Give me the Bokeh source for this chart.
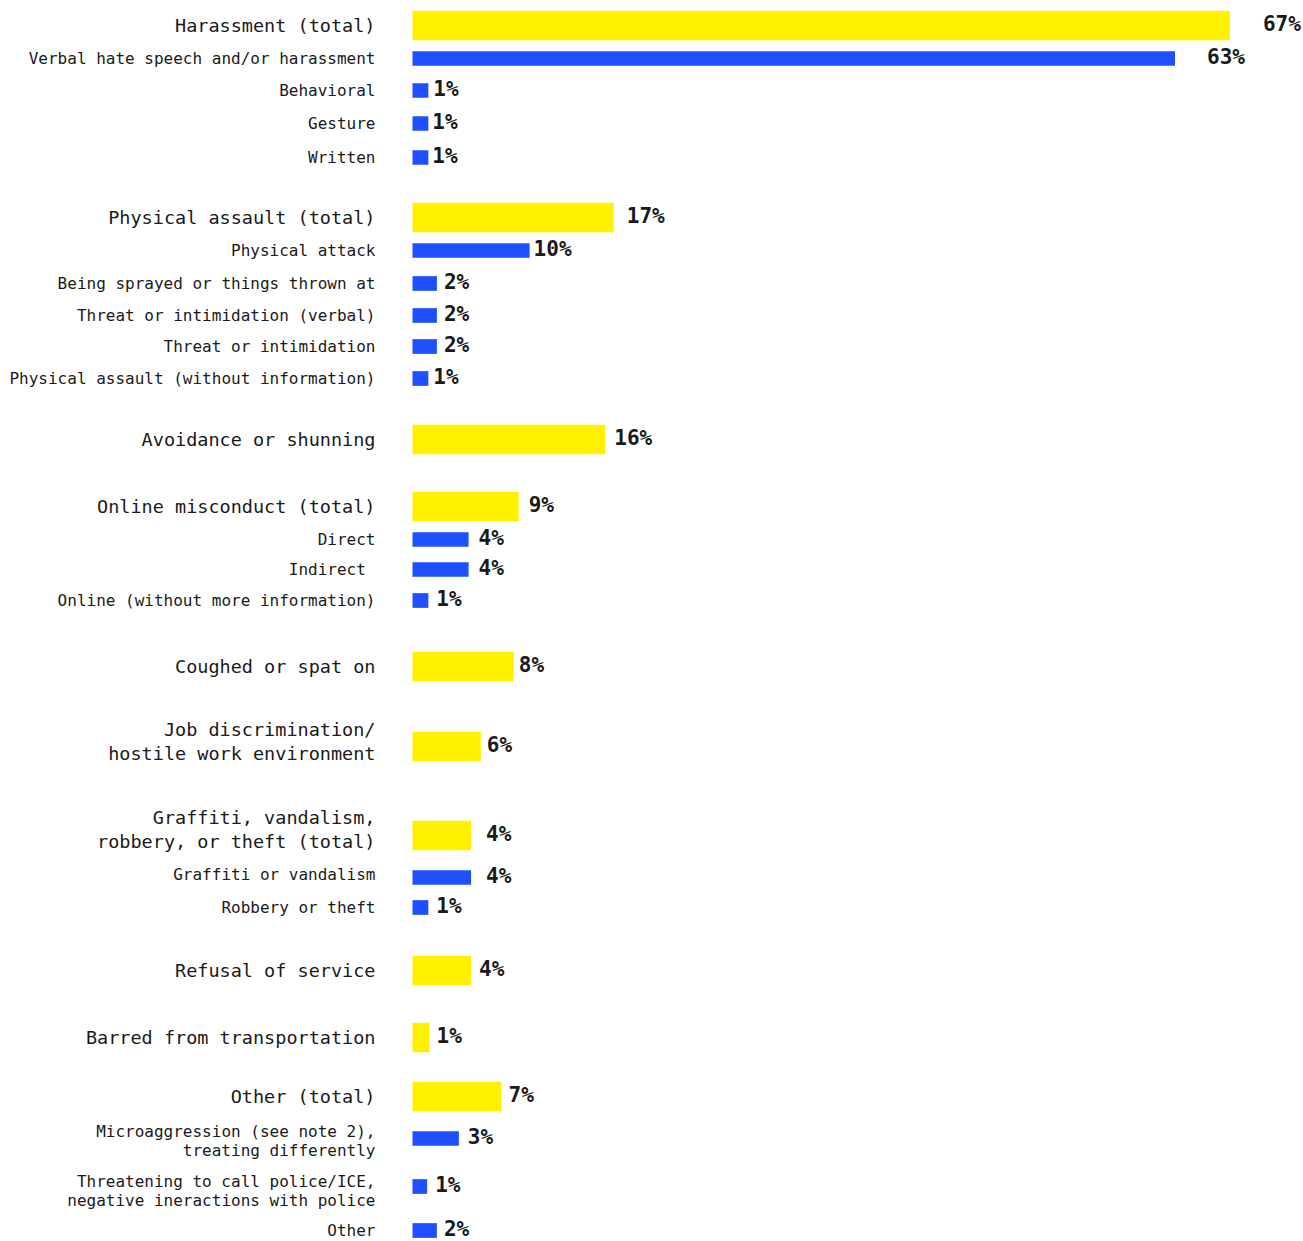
from bokeh.plotting import figure
from bokeh.models import ColumnDataSource, Range1d
from bokeh.embed import file_html
from bokeh.resources import INLINE
from bokeh.core.properties import value

# ---------------- data ----------------
categories = [
    "Harassment (total)",
    "Verbal hate speech and/or harassment",
    "Behavioral",
    "Gesture",
    "Written",
    "Physical assault (total)",
    "Physical attack",
    "Being sprayed or things thrown at",
    "Threat or intimidation (verbal)",
    "Threat or intimidation",
    "Physical assault (without information)",
    "Avoidance or shunning",
    "Online misconduct (total)",
    "Direct",
    "Indirect ",
    "Online (without more information)",
    "Coughed or spat on",
    "Job discrimination/\nhostile work environment",
    "Graffiti, vandalism,\nrobbery, or theft (total)",
    "Graffiti or vandalism",
    "Robbery or theft",
    "Refusal of service",
    "Barred from transportation",
    "Other (total)",
    "Microaggression (see note 2),\ntreating differently",
    "Threatening to call police/ICE,\nnegative ineractions with police",
    "Other",
]
is_total = [True, False, False, False, False,
            True, False, False, False, False, False,
            True,
            True, False, False, False,
            True,
            True,
            True, False, False,
            True,
            True,
            True, False, False, False]
bar_values = [67.0, 62.5, 1.3, 1.3, 1.3,
              16.5, 9.6, 2.0, 2.0, 2.0, 1.3,
              15.8,
              8.7, 4.6, 4.6, 1.3,
              8.3,
              5.6,
              4.8, 4.8, 1.3,
              4.8,
              1.4,
              7.3, 3.8, 1.2, 2.0]
value_labels = ["67%", "63%", "1%", "1%", "1%",
                "17%", "10%", "2%", "2%", "2%", "1%",
                "16%",
                "9%", "4%", "4%", "1%",
                "8%",
                "6%",
                "4%", "4%", "1%",
                "4%",
                "1%",
                "7%", "3%", "1%", "2%"]

# ---------------- layout (pixels) ----------------
row_gaps = [25, 33, 32, 33, 34, 60, 33, 33, 32, 31, 32, 61, 67, 33, 30, 31,
            66, 80, 89, 42, 30, 63, 67, 59, 42, 48, 44]
label_pads = [33, 32, 5, 4, 4, 13, 4, 7, 7, 7, 5, 9, 10, 10, 10, 8,
              5, 6, 15, 15, 8, 8, 7, 7, 9, 8, 7]
label_dy = [0, 0, 0, 0, 0, 0, 0, 0, 0, 0, 0, 0, 0, 0, 0, 0,
            0, -5, -6, -3, 0, 0, 0, 0, 2, 4, 0]

W, H = 1303, 1241
FRAME_LEFT = 412          # bar origin, px from figure left
PX_PER_PCT = 12.2

YELLOW = "#fff100"
BLUE = "#1f4fff"
TXT = "#1a1a1a"
FONT = value("DejaVu Sans Mono")

ys = []
acc = 0
for g in row_gaps:
    acc += g
    ys.append(acc)

colors = [YELLOW if t else BLUE for t in is_total]
heights = [29.5 if t else 14.7 for t in is_total]

x_start = -FRAME_LEFT / PX_PER_PCT
x_end = x_start + W / PX_PER_PCT

p = figure(width=W, height=H, output_backend="svg", toolbar_location=None,
           x_range=Range1d(x_start, x_end), y_range=Range1d(H, 0),
           min_border=0, min_border_left=0, min_border_right=0,
           min_border_top=0, min_border_bottom=0)
p.axis.visible = False
p.grid.visible = False
p.outline_line_color = None
p.background_fill_color = "white"
p.border_fill_color = "white"

src = ColumnDataSource(dict(y=ys, v=bar_values, c=colors, h=heights,
                            lab=value_labels, pad=label_pads))
p.hbar(y="y", left=0, right="v", height="h", fill_color="c",
       line_color=None, source=src)

p.text(x="v", y="y", text="lab", x_offset="pad", y_offset=-2, source=src,
       text_font=FONT, text_font_style="bold", text_font_size="21px",
       text_color=TXT, text_align="left", text_baseline="middle")

tot_idx = [i for i, t in enumerate(is_total) if t]
sub_idx = [i for i, t in enumerate(is_total) if not t]

tot_src = ColumnDataSource(dict(
    y=[ys[i] + label_dy[i] for i in tot_idx],
    x=[0] * len(tot_idx),
    t=[categories[i] for i in tot_idx]))
sub_src = ColumnDataSource(dict(
    y=[ys[i] + label_dy[i] for i in sub_idx],
    x=[0] * len(sub_idx),
    t=[categories[i] for i in sub_idx]))

p.text(x="x", y="y", text="t", source=tot_src, x_offset=-37,
       text_font=FONT, text_font_size="18.5px", text_color=TXT,
       text_align="right", text_baseline="middle", text_line_height=1.15)
p.text(x="x", y="y", text="t", source=sub_src, x_offset=-37,
       text_font=FONT, text_font_size="16px", text_color=TXT,
       text_align="right", text_baseline="middle", text_line_height=1.0)

open("out.html", "w").write(file_html(p, INLINE))
